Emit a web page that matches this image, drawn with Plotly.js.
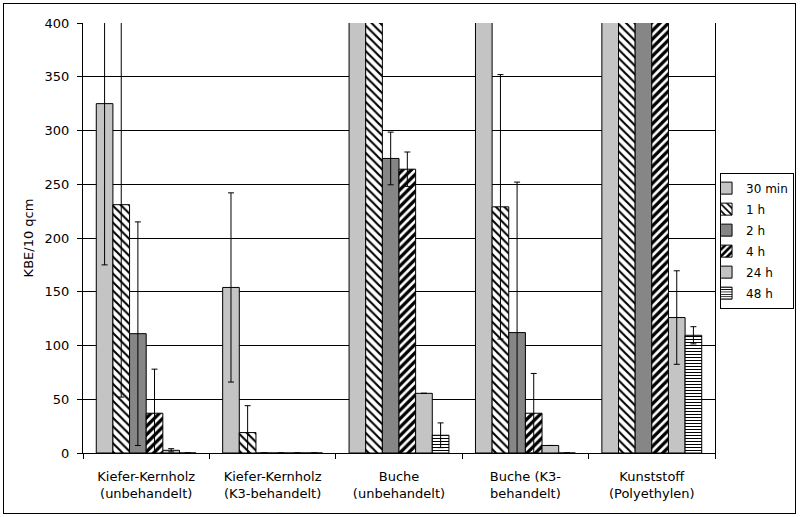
<!DOCTYPE html>
<html>
<head>
<meta charset="utf-8">
<script src="https://cdn.plot.ly/plotly-3.0.1.min.js"></script>
<style>
  body { margin: 0; background: #fff; }
  #wrap { position: relative; width: 800px; height: 517px; }
  #chart { position: absolute; left: 0; top: 0; width: 800px; height: 517px; }
  #frame { position: absolute; left: 3px; top: 3px; width: 791px; height: 509px;
           border: 1px solid #000; pointer-events: none; }
</style>
</head>
<body>
<div id="wrap">
  <div id="chart"></div>
  <div id="frame"></div>
</div>
<script>
// categories (x axis)
var categories = ['Kiefer-Kernholz<br>(unbehandelt)', 'Kiefer-Kernholz<br>(K3-behandelt)',
                  'Buche<br>(unbehandelt)', 'Buche (K3-<br>behandelt)', 'Kunststoff<br>(Polyethylen)'];

// KBE/10 qcm per time point; values above 400 run off the top of the chart
var min30 = [325, 154, 520, 480, 600];
var h1    = [231, 19, 470, 229, 560];
var h2    = [111, 0, 274, 112, 540];
var h4    = [37, 0, 264, 37, 510];
var h24   = [2.5, 0, 55.5, 7, 126];
var h48   = [0, 0, 16.5, 0, 109.5];

// standard deviations (error bars)
var err30 = [150, 88, null, null, null];
var err1  = [179, 25, null, 123, null];
var err2  = [104, null, 24.5, 140, null];
var err4  = [41, null, 16, 37, null];
var err24 = [1.5, null, null, null, 43.5];
var err48 = [null, null, 11.5, null, 8];

var names = ['30 min', '1 h', '2 h', '4 h', '24 h', '48 h'];

var fnt = {family: 'DejaVu Sans, Arial, sans-serif', size: 13, color: '#000'};

function errBars(arr) {
    return {type: 'data', symmetric: true, array: arr, color: '#000', thickness: 1, width: 3};
}

function barTrace(name, y, err, marker) {
    marker.line = {color: '#000', width: 1};
    return {
        type: 'bar',
        name: name,
        legendgroup: name,   // own group each, so tracegroupgap spaces the rows
        x: categories,
        y: y,
        marker: marker,
        error_y: errBars(err),
        hoverinfo: 'skip'
    };
}

var data = [
    barTrace(names[0], min30, err30, {color: '#c4c4c4'}),
    barTrace(names[1], h1, err1, {color: '#fff',
        pattern: {shape: '\\', fgcolor: '#000', bgcolor: '#fff', size: 6, solidity: 0.35}}),
    barTrace(names[2], h2, err2, {color: '#868686'}),
    barTrace(names[3], h4, err4, {color: '#fff',
        pattern: {shape: '/', fgcolor: '#000', bgcolor: '#fff', size: 6, solidity: 0.55}}),
    barTrace(names[4], h24, err24, {color: '#c4c4c4'}),
    barTrace(names[5], h48, err48, {color: '#fff',
        pattern: {shape: '-', fgcolor: '#000', bgcolor: '#fff', size: 3, solidity: 0.35}})
];

var layout = {
    width: 800,
    height: 517,
    margin: {l: 83, r: 85, t: 23, b: 64, autoexpand: false},
    paper_bgcolor: '#fff',
    plot_bgcolor: '#fff',
    font: fnt,
    barmode: 'group',
    bargap: 0.21,
    bargroupgap: 0,
    showlegend: true,
    legend: {
        x: 1.008, xanchor: 'left',
        y: 0.652, yanchor: 'top',
        bordercolor: '#000', borderwidth: 1, bgcolor: '#fff',
        font: {family: 'DejaVu Sans, Arial, sans-serif', size: 12, color: '#000'},
        itemwidth: 30,
        indentation: -15,
        tracegroupgap: 2,
        traceorder: 'grouped'
    },
    xaxis: {
        type: 'category',
        showline: true, linecolor: '#000', linewidth: 1,
        ticks: 'outside', tickson: 'boundaries', ticklen: 5, tickcolor: '#000',
        showgrid: false,
        tickfont: fnt,
        ticklabelstandoff: 11,
        automargin: false
    },
    yaxis: {
        range: [0, 400],
        dtick: 50,
        showline: true, linecolor: '#000', linewidth: 1, mirror: true,
        showgrid: true, gridcolor: '#000', gridwidth: 1,
        zeroline: false,
        ticks: 'outside', ticklen: 5, tickcolor: '#000',
        tickfont: fnt,
        ticklabelstandoff: 5,
        title: {text: 'KBE/10 qcm', font: fnt, standoff: 8},
        automargin: false
    }
};

Plotly.newPlot('chart', data, layout, {displayModeBar: false, staticPlot: true});
</script>
</body>
</html>
